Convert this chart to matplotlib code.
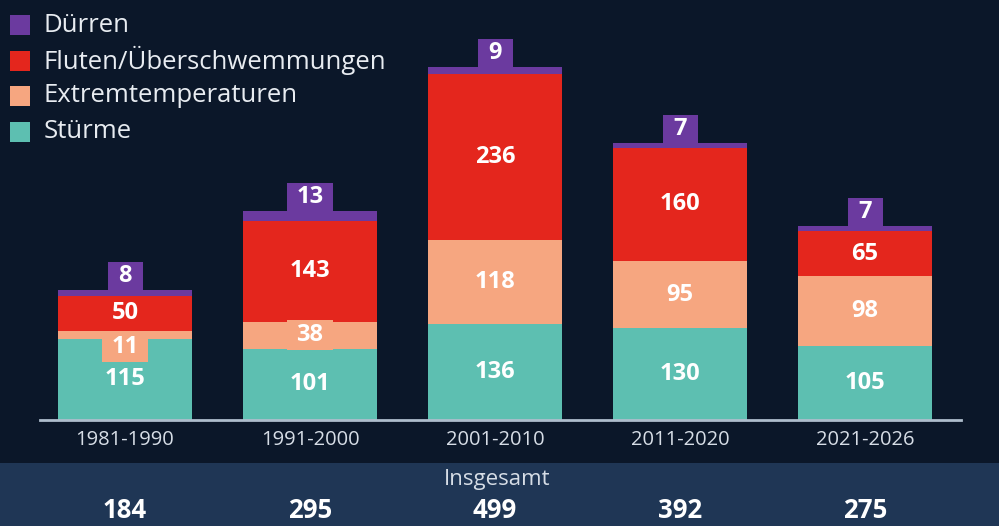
import matplotlib.pyplot as plt
from matplotlib.patches import Rectangle

periods = ["1981-1990", "1991-2000", "2001-2010", "2011-2020", "2021-2026"]
stuerme = [115, 101, 136, 130, 105]
extremtemp = [11, 38, 118, 95, 98]
fluten = [50, 143, 236, 160, 65]
duerren = [8, 13, 9, 7, 7]

series = [
    ("Stürme", stuerme, "#5dbfb1"),
    ("Extremtemperaturen", extremtemp, "#f6a680"),
    ("Fluten/Überschwemmungen", fluten, "#e4261d"),
    ("Dürren", duerren, "#6b3a9f"),
]

BG = "#0b1729"
BAND = "#1f3655"
PX_X = 185      # pixels per category step
PX_Y = 0.707    # pixels per event
plt.rcParams["font.family"] = ["Open Sans", "DejaVu Sans"]

fig = plt.figure(figsize=(9.99, 5.26), dpi=100, facecolor=BG)

# lighter band for the totals row
fig.patches.append(Rectangle((0, 0), 1, 63 / 526, transform=fig.transFigure,
                             facecolor=BAND, edgecolor="none", zorder=0))

ax = fig.add_axes([0, 106 / 526, 1, 420 / 526])
ax.set_facecolor("none")
ax.set_xlim(-125 / PX_X, 874 / PX_X)
ax.set_ylim(0, 420 / PX_Y)
ax.axis("off")


def label_box(xc, yc, text, color, h_px=29):
    w_px = 24 + 11 * len(text)
    w, h = w_px / PX_X, h_px / PX_Y
    ax.add_patch(Rectangle((xc - w / 2, yc - h / 2), w, h, fc=color, ec="none",
                           zorder=4))
    ax.text(xc, yc, text, ha="center", va="center", color="white", fontsize=17,
            fontweight="bold", zorder=5)


x = list(range(len(periods)))
width = 0.72
bottom = [0] * len(periods)
for name, vals, color in series:
    ax.bar(x, vals, width, bottom=bottom, color=color, edgecolor="none", zorder=2)
    for i, v in enumerate(vals):
        if name == "Dürren":
            top = bottom[i] + v
            label_box(x[i], top + 14 / PX_Y, str(v), color, h_px=28)
        elif name == "Extremtemperaturen" and v < 50:
            dy = -12 / PX_Y if v < 20 else 0
            label_box(x[i], bottom[i] + v / 2 + dy, str(v), color, h_px=30)
        else:
            ax.text(x[i], bottom[i] + v / 2, str(v), ha="center", va="center",
                    color="white", fontsize=17, fontweight="bold", zorder=3)
    bottom = [b + v for b, v in zip(bottom, vals)]

# baseline
ax.plot([-0.46, 4.52], [0, 0], color="#aebdcc", lw=2, zorder=5, clip_on=False)

# legend, top-left
for k, (name, vals, color) in enumerate(reversed(series)):
    yy = 1 - (25 + 35.5 * k) / 526
    fig.patches.append(Rectangle((10 / 999, yy - 10 / 526), 20 / 999, 20 / 526,
                                 transform=fig.transFigure, facecolor=color,
                                 edgecolor="none"))
    fig.text(44 / 999, yy, name, ha="left", va="center", color="#e8ecf1",
             fontsize=18.5)

# period labels and totals
totals = [a + b + c + d for a, b, c, d in zip(stuerme, extremtemp, fluten, duerren)]
for i, (p, t) in enumerate(zip(periods, totals)):
    px = (125 + PX_X * i) / 999
    fig.text(px, 1 - 440 / 526, p, ha="center", va="center", color="#d6dde6",
             fontsize=14.5)
    fig.text(px, 1 - 511 / 526, str(t), ha="center", va="center", color="white",
             fontsize=18.5, fontweight="bold")
fig.text(497 / 999, 1 - 480 / 526, "Insgesamt", ha="center", va="center",
         color="#d6dde6", fontsize=16)

fig.savefig("out.png", dpi=100, facecolor=BG)
